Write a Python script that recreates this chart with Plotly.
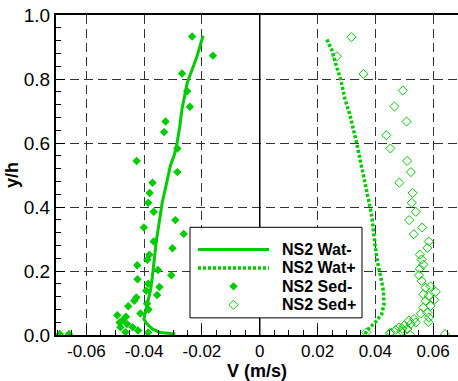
import plotly.graph_objects as go

# ---- data ----
wat_minus_v = [-0.0292, -0.0344, -0.0372, -0.0390, -0.0401, -0.0398, -0.0390, -0.0384, -0.0378, -0.0372,
               -0.0364, -0.0357, -0.0350, -0.0344, -0.0338, -0.0324, -0.0309, -0.0295, -0.0286, -0.0277,
               -0.0269, -0.0251, -0.0217, -0.0196]
wat_minus_y = [0.003, 0.008, 0.019, 0.034, 0.050, 0.062, 0.086, 0.110, 0.140, 0.179,
               0.251, 0.300, 0.340, 0.380, 0.411, 0.468, 0.530, 0.565, 0.600, 0.650,
               0.706, 0.788, 0.871, 0.935]

wat_plus_v = [0.0364, 0.0376, 0.0399, 0.0422, 0.0430, 0.0428, 0.0419, 0.0407, 0.0399, 0.0393,
              0.0388, 0.0379, 0.0370, 0.0359, 0.0347, 0.0336, 0.0322, 0.0313, 0.0295, 0.0280,
              0.0267, 0.0249, 0.0230]
wat_plus_y = [0.003, 0.019, 0.039, 0.065, 0.096, 0.138, 0.179, 0.230, 0.282, 0.334,
              0.370, 0.411, 0.452, 0.504, 0.556, 0.597, 0.650, 0.685, 0.737, 0.799,
              0.835, 0.891, 0.928]

sed_minus_v = [-0.0234, -0.0162, -0.0269, -0.0251, -0.0242, -0.0326, -0.0331, -0.0285, -0.0426, -0.0285,
               -0.0371, -0.0381, -0.0386, -0.0367, -0.0292, -0.0401, -0.0263, -0.0367, -0.0302, -0.0382,
               -0.0389, -0.0424, -0.0352, -0.0306, -0.0423, -0.0386, -0.0347, -0.0393, -0.0355, -0.0427,
               -0.0434, -0.0390, -0.0455, -0.0385, -0.0413, -0.0493, -0.0463, -0.0475, -0.0459, -0.0485,
               -0.0440, -0.0482, -0.0421, -0.0465, -0.0386, -0.0692, -0.0660]
sed_minus_y = [0.933, 0.873, 0.817, 0.762, 0.713, 0.667, 0.634, 0.583, 0.544, 0.509,
               0.476, 0.444, 0.413, 0.385, 0.359, 0.336, 0.316, 0.292, 0.271, 0.251,
               0.235, 0.218, 0.203, 0.187, 0.174, 0.160, 0.150, 0.138, 0.125, 0.117,
               0.107, 0.098, 0.090, 0.080, 0.067, 0.062, 0.057, 0.045, 0.034, 0.039,
               0.024, 0.024, 0.014, 0.009, 0.008, 0.003, 0.003]

sed_plus_v = [0.0317, 0.0267, 0.0359, 0.0495, 0.0466, 0.0508, 0.0438, 0.0452, 0.0510, 0.0523,
              0.0483, 0.0529, 0.0526, 0.0540, 0.0517, 0.0562, 0.0533, 0.0585, 0.0580, 0.0554,
              0.0560, 0.0566, 0.0554, 0.0551, 0.0560, 0.0591, 0.0574, 0.0609, 0.0566, 0.0585,
              0.0604, 0.0574, 0.0591, 0.0566, 0.0580, 0.0557, 0.0585, 0.0583, 0.0534, 0.0516,
              0.0540, 0.0522, 0.0499, 0.0482, 0.0493, 0.0511, 0.0470, 0.0453, 0.0491, 0.0641,
              0.0369, 0.0450, 0.0520]
sed_plus_y = [0.931, 0.871, 0.816, 0.764, 0.714, 0.667, 0.624, 0.583, 0.544, 0.509,
              0.476, 0.444, 0.413, 0.385, 0.359, 0.336, 0.315, 0.292, 0.272, 0.251,
              0.236, 0.220, 0.207, 0.187, 0.169, 0.152, 0.148, 0.135, 0.127, 0.122,
              0.110, 0.107, 0.091, 0.086, 0.070, 0.067, 0.055, 0.041, 0.050, 0.045,
              0.039, 0.034, 0.029, 0.024, 0.019, 0.019, 0.016, 0.008, 0.011, 0.003,
              0.008, 0.005, 0.001]

series_names = ["NS2 Wat-", "NS2 Wat+", "NS2 Sed-", "NS2 Sed+"]

x_tickvals = [-0.06, -0.04, -0.02, 0, 0.02, 0.04, 0.06]
x_ticktext = ["-0.06", "-0.04", "-0.02", "0", "0.02", "0.04", "0.06"]
y_tickvals = [0.0, 0.2, 0.4, 0.6, 0.8, 1.0]
y_ticktext = ["0.0", "0.2", "0.4", "0.6", "0.8", "1.0"]

GREEN = "#00cc00"
FONT = "Liberation Sans, Arial, sans-serif"
W, H = 458, 381
ML, MR, MT, MB = 56, 0, 15, 43
PW, PH = W - ML - MR, H - MT - MB
X_RANGE = [-0.0705, 0.0686]
Y_RANGE = [0.0, 1.0]


def px_to_x(px):
    return X_RANGE[0] + (px - ML) / PW * (X_RANGE[1] - X_RANGE[0])


def px_to_y(py):
    return Y_RANGE[0] + (H - MB - py) / PH * (Y_RANGE[1] - Y_RANGE[0])


solid_line = dict(color=GREEN, width=3)
dot_line = dict(color=GREEN, width=3.5, dash="3px,2px")
filled_marker = dict(symbol="diamond", size=6.5, color=GREEN)
open_marker = dict(symbol="diamond-open", size=7, color=GREEN, line=dict(width=1))

fig = go.Figure()
fig.add_trace(go.Scatter(x=wat_minus_v, y=wat_minus_y, mode="lines", name=series_names[0], line=solid_line))
fig.add_trace(go.Scatter(x=wat_plus_v, y=wat_plus_y, mode="lines", name=series_names[1], line=dot_line))
fig.add_trace(go.Scatter(x=sed_minus_v, y=sed_minus_y, mode="markers", name=series_names[2], marker=filled_marker))
fig.add_trace(go.Scatter(x=sed_plus_v, y=sed_plus_y, mode="markers", name=series_names[3], marker=open_marker))

grid = dict(showgrid=True, gridcolor="#333333", gridwidth=1, griddash="9px,5px")
fig.update_xaxes(range=X_RANGE, tickvals=x_tickvals, ticktext=x_ticktext,
                 ticks="inside", ticklen=9, tickwidth=1, tickcolor="black",
                 minor=dict(dtick=0.005, ticks="inside", ticklen=5, tickcolor="black", showgrid=False),
                 showline=True, linecolor="black", linewidth=2, mirror=True,
                 zeroline=False,
                 tickfont=dict(family=FONT, size=17, color="black"),
                 title=dict(text="V (m/s)", font=dict(family=FONT, size=18, color="black", weight="bold"), standoff=7),
                 **grid)
fig.update_yaxes(range=Y_RANGE, tickvals=y_tickvals, ticktext=y_ticktext,
                 ticks="inside", ticklen=9, tickwidth=1, tickcolor="black",
                 minor=dict(dtick=0.04, ticks="inside", ticklen=5, tickcolor="black", showgrid=False),
                 showline=True, linecolor="black", linewidth=2, mirror=False,
                 zeroline=False,
                 tickfont=dict(family=FONT, size=19, color="black"),
                 title=dict(text="y/h", font=dict(family=FONT, size=18, color="black", weight="bold"), standoff=0),
                 **grid)

# ---- custom legend (box, samples, text) ----
row_py = [251.7, 270.3, 288.9, 307.5]

shapes = [
    # vertical reference line at V = 0
    dict(type="line", xref="x", yref="y", x0=0, x1=0, y0=Y_RANGE[0], y1=Y_RANGE[1],
         line=dict(color="black", width=1.5), layer="between"),
    dict(type="rect", xref="x", yref="y", x0=px_to_x(190), x1=px_to_x(362), y0=px_to_y(320.7), y1=px_to_y(229.3),
         line=dict(color="black", width=1), fillcolor="white", layer="between"),
]
for i, ln in enumerate([solid_line, dot_line]):
    yy = px_to_y(row_py[i])
    shapes.append(dict(type="line", xref="x", yref="y", x0=px_to_x(198), x1=px_to_x(269), y0=yy, y1=yy,
                       line=ln, layer="above"))

annotations = []
for i, nm in enumerate(series_names):
    annotations.append(dict(x=px_to_x(280), y=px_to_y(row_py[i]), xref="x", yref="y",
                            text=nm, showarrow=False, xanchor="left", yanchor="middle",
                            font=dict(family=FONT, size=16, color="black", weight="bold")))

# legend marker samples
fig.add_trace(go.Scatter(x=[px_to_x(233.5)], y=[px_to_y(row_py[2])], mode="markers", marker=filled_marker,
                         showlegend=False, hoverinfo="skip"))
fig.add_trace(go.Scatter(x=[px_to_x(233.5)], y=[px_to_y(row_py[3])], mode="markers", marker=open_marker,
                         showlegend=False, hoverinfo="skip"))

fig.update_layout(
    width=W, height=H,
    margin=dict(l=ML, r=MR, t=MT, b=MB),
    plot_bgcolor="white", paper_bgcolor="white",
    showlegend=False,
    shapes=shapes,
    annotations=annotations,
)

fig.write_html("out.html")
